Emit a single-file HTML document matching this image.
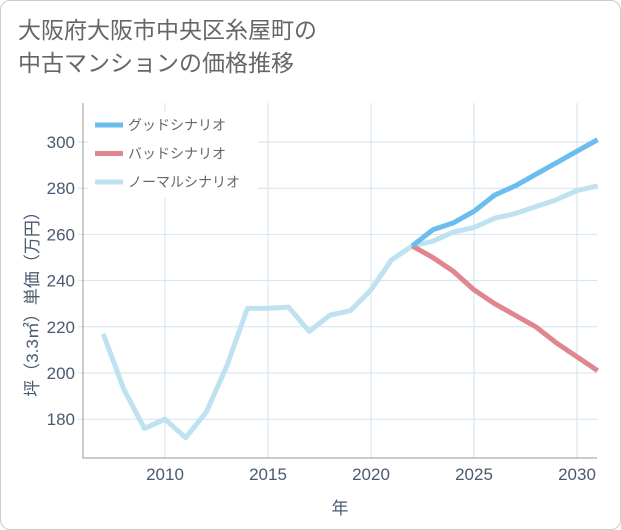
<!DOCTYPE html>
<html><head><meta charset="utf-8"><style>
body{margin:0;background:#fff;font-family:"Liberation Sans","Noto Sans CJK JP",sans-serif}
#card{position:absolute;left:0;top:0;width:619px;height:528px;border:1px solid #ccc;border-radius:10px;background:#fff}
#title{position:absolute;left:18px;top:14px;font-size:23px;line-height:33px;color:#666}
</style></head><body>
<div id="card"></div>
<div id="title">大阪府大阪市中央区糸屋町の<br>中古マンションの価格推移</div>
<svg id="c" width="621" height="530" style="position:absolute;left:0;top:0"></svg>
<script>
const years=[2007,2008,2009,2010,2011,2012,2013,2014,2015,2016,2017,2018,2019,2020,2021,2022,2023,2024,2025,2026,2027,2028,2029,2030,2031];
const normal=[217,193,176,180,172,183,203,228,228,228.5,218,225,227,236,249,255,257,261,263,267,269,272,275,279,281];
const goodYears=[2022,2023,2024,2025,2026,2027,2028,2029,2030,2031];
const good=[255,262,265,270,277,281,286,291,296,301];
const bad=[255,250,244,236,230,225,220,213,207,201];
const xTicks=[2010,2015,2020,2025,2030];
const yTicks=[180,200,220,240,260,280,300];
const L=83,R=597,T=103,B=458;
const x=v=>165+(v-2010)*20.6;
const y=v=>142+(300-v)*2.31;
const s=document.getElementById('c'),NS='http://www.w3.org/2000/svg';
function mk(t,a,p){const e=document.createElementNS(NS,t);for(const k in a)e.setAttribute(k,a[k]);(p||s).appendChild(e);return e;}
for(const t of xTicks){const l=mk('line',{x1:x(t),x2:x(t),y1:T,y2:B,stroke:'#d5e3ee','stroke-width':1});

const tx=mk('text',{x:x(t),y:B+22,'text-anchor':'middle','font-size':17,fill:'#4a5a70'});tx.textContent=t;
}
for(const t of yTicks){const l=mk('line',{x1:L-5,x2:R,y1:y(t),y2:y(t),stroke:'#d5e3ee','stroke-width':1});

const tx=mk('text',{x:L-8,y:y(t)+6,'text-anchor':'end','font-size':17,fill:'#4a5a70'});tx.textContent=t;
}
const ax=mk('path',{d:`M${L},${T}V${B}H${R}`,fill:'none',stroke:'#999','stroke-width':1});

function line(xs,vs,c,n){const p=mk('polyline',{points:xs.map((v,i)=>x(v)+','+y(vs[i])).join(' '),fill:'none',stroke:c,'stroke-width':5,'stroke-linejoin':'round'});
}
line(years,normal,'#bfe2f0','normal-scenario-line');
line(goodYears,bad,'#e0868f','bad-scenario-line');
line(goodYears,good,'#6bbdf0','good-scenario-line');
const lb=mk('rect',{x:88,y:112,width:170,height:86,fill:'#fff'});

[['グッドシナリオ','#6bbdf0'],['バッドシナリオ','#e0868f'],['ノーマルシナリオ','#bfe2f0']].forEach((d,i)=>{
const yy=125+i*28.5;const l=mk('line',{x1:95,x2:123,y1:yy,y2:yy,stroke:d[1],'stroke-width':5});

const t=mk('text',{x:128,y:yy+5,'font-size':14,fill:'#666'});t.textContent=d[0];
});
const xt=mk('text',{x:340,y:514,'text-anchor':'middle','font-size':17,fill:'#4a5a70'});xt.textContent='年';

const yt=mk('text',{x:0,y:0,'text-anchor':'middle','font-size':17,fill:'#4a5a70',transform:'translate(38,300) rotate(-90)'});yt.textContent='坪（3.3㎡）単価（万円）';

</script>
</body></html>
